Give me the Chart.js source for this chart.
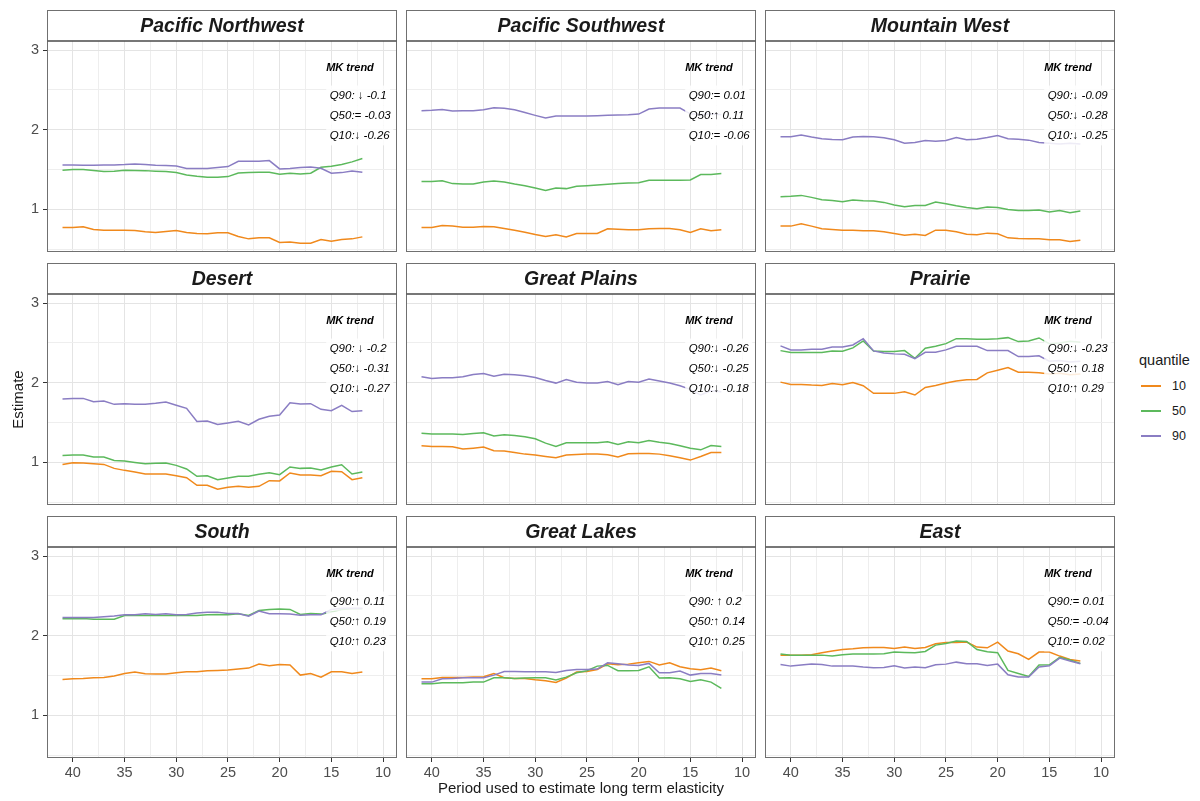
<!DOCTYPE html>
<html>
<head>
<meta charset="utf-8">
<script src="https://cdn.jsdelivr.net/npm/chart.js@4.4.1/dist/chart.umd.min.js"></script>
<style>
    html, body { margin: 0; padding: 0; background: #fff; }
    #page { position: relative; width: 1200px; height: 801px; overflow: hidden; font-family: "Liberation Sans", Arial, sans-serif; }
    #page canvas { position: absolute; }
    .legend-title { position: absolute; left: 1139px; top: 352px; font-size: 14.5px; color: #1a1a1a; }
    .legend-key { position: absolute; left: 1141px; width: 20px; height: 1.6px; }
    .legend-label { position: absolute; left: 1172px; font-size: 12.5px; color: #1a1a1a; line-height: 14px; }
</style>
</head>
<body>
<div id="page"></div>
<script>
// periods (x) and axis ticks
var periods = [41, 40, 39, 38, 37, 36, 35, 34, 33, 32, 31, 30, 29, 28, 27, 26, 25, 24, 23, 22, 21, 20, 19, 18, 17, 16, 15, 14, 13, 12];
var xTicks = [10, 12.5, 15, 17.5, 20, 22.5, 25, 27.5, 30, 32.5, 35, 37.5, 40];
var yTicks = [0.5, 1, 1.5, 2, 2.5, 3];

var quantiles = ['10', '50', '90'];
var quantileColors = ['#F0891C', '#5CB95C', '#8A7DC3'];

var regionNames = ['Pacific Northwest', 'Pacific Southwest', 'Mountain West', 'Desert', 'Great Plains', 'Prairie', 'South', 'Great Lakes', 'East'];

// estimates per region and quantile, x = periods
var pacificNorthwestQ10 = [0.773, 0.773, 0.782, 0.748, 0.739, 0.739, 0.739, 0.735, 0.718, 0.710, 0.723, 0.735, 0.710, 0.697, 0.693, 0.706, 0.706, 0.660, 0.630, 0.643, 0.643, 0.584, 0.592, 0.576, 0.576, 0.622, 0.601, 0.622, 0.630, 0.655];
var pacificNorthwestQ50 = [1.492, 1.500, 1.500, 1.490, 1.475, 1.480, 1.492, 1.490, 1.487, 1.480, 1.475, 1.462, 1.433, 1.416, 1.403, 1.403, 1.412, 1.458, 1.462, 1.466, 1.466, 1.441, 1.454, 1.445, 1.454, 1.529, 1.542, 1.563, 1.597, 1.639];
var pacificNorthwestQ90 = [1.559, 1.559, 1.555, 1.555, 1.559, 1.559, 1.563, 1.571, 1.563, 1.555, 1.550, 1.546, 1.513, 1.513, 1.513, 1.525, 1.538, 1.605, 1.605, 1.605, 1.613, 1.508, 1.513, 1.525, 1.534, 1.517, 1.454, 1.462, 1.483, 1.466];

var pacificSouthwestQ10 = [0.773, 0.773, 0.798, 0.790, 0.777, 0.777, 0.786, 0.782, 0.761, 0.739, 0.714, 0.685, 0.660, 0.681, 0.655, 0.697, 0.697, 0.697, 0.756, 0.752, 0.744, 0.744, 0.756, 0.761, 0.761, 0.744, 0.710, 0.756, 0.731, 0.744];
var pacificSouthwestQ50 = [1.349, 1.349, 1.361, 1.324, 1.319, 1.319, 1.345, 1.357, 1.345, 1.319, 1.298, 1.269, 1.239, 1.269, 1.261, 1.290, 1.298, 1.307, 1.315, 1.324, 1.332, 1.336, 1.366, 1.366, 1.366, 1.366, 1.370, 1.437, 1.437, 1.450];
var pacificSouthwestQ90 = [2.239, 2.244, 2.256, 2.235, 2.239, 2.239, 2.252, 2.277, 2.269, 2.252, 2.218, 2.181, 2.147, 2.172, 2.172, 2.172, 2.172, 2.176, 2.181, 2.185, 2.189, 2.197, 2.261, 2.273, 2.273, 2.273, 2.200, 2.190, 2.200, 2.190];

var mountainWestQ10 = [0.790, 0.790, 0.819, 0.790, 0.756, 0.748, 0.739, 0.739, 0.731, 0.731, 0.718, 0.697, 0.676, 0.689, 0.672, 0.739, 0.739, 0.718, 0.689, 0.681, 0.702, 0.693, 0.643, 0.634, 0.630, 0.630, 0.618, 0.618, 0.597, 0.613];
var mountainWestQ50 = [1.160, 1.164, 1.176, 1.151, 1.122, 1.113, 1.097, 1.118, 1.109, 1.105, 1.088, 1.055, 1.034, 1.050, 1.050, 1.092, 1.071, 1.046, 1.025, 1.008, 1.029, 1.025, 1.000, 0.987, 0.987, 0.992, 0.966, 0.987, 0.958, 0.979];
var mountainWestQ90 = [1.912, 1.912, 1.933, 1.908, 1.887, 1.878, 1.874, 1.908, 1.916, 1.912, 1.899, 1.874, 1.832, 1.840, 1.866, 1.857, 1.866, 1.903, 1.874, 1.882, 1.903, 1.929, 1.887, 1.882, 1.870, 1.840, 1.830, 1.820, 1.830, 1.820];

var desertQ10 = [0.975, 0.996, 0.992, 0.983, 0.975, 0.925, 0.900, 0.879, 0.854, 0.854, 0.854, 0.833, 0.808, 0.713, 0.713, 0.663, 0.688, 0.700, 0.688, 0.700, 0.771, 0.767, 0.867, 0.842, 0.842, 0.833, 0.888, 0.883, 0.783, 0.808];
var desertQ50 = [1.088, 1.092, 1.092, 1.067, 1.067, 1.025, 1.017, 1.000, 0.983, 0.988, 0.992, 0.963, 0.917, 0.825, 0.833, 0.783, 0.804, 0.825, 0.825, 0.850, 0.871, 0.846, 0.942, 0.925, 0.929, 0.904, 0.942, 0.971, 0.854, 0.879];
var desertQ90 = [1.796, 1.804, 1.804, 1.763, 1.771, 1.729, 1.738, 1.729, 1.729, 1.742, 1.758, 1.717, 1.679, 1.513, 1.521, 1.475, 1.496, 1.517, 1.471, 1.542, 1.579, 1.596, 1.750, 1.733, 1.738, 1.667, 1.650, 1.717, 1.638, 1.650];

var greatPlainsQ10 = [1.208, 1.200, 1.200, 1.196, 1.167, 1.179, 1.192, 1.146, 1.142, 1.125, 1.104, 1.092, 1.075, 1.058, 1.092, 1.100, 1.104, 1.104, 1.096, 1.067, 1.108, 1.113, 1.113, 1.104, 1.083, 1.058, 1.029, 1.075, 1.125, 1.125];
var greatPlainsQ50 = [1.367, 1.358, 1.358, 1.358, 1.350, 1.363, 1.371, 1.333, 1.346, 1.338, 1.321, 1.296, 1.242, 1.200, 1.246, 1.246, 1.246, 1.246, 1.258, 1.225, 1.258, 1.246, 1.275, 1.254, 1.238, 1.208, 1.179, 1.158, 1.213, 1.200];
var greatPlainsQ90 = [2.075, 2.054, 2.063, 2.063, 2.075, 2.104, 2.117, 2.083, 2.108, 2.100, 2.088, 2.067, 2.029, 1.996, 2.042, 2.008, 1.996, 1.996, 2.017, 1.975, 2.017, 2.008, 2.046, 2.021, 1.996, 1.963, 1.917, 1.846, 1.900, 1.888];

var prairieQ10 = [2.008, 1.979, 1.979, 1.971, 1.967, 1.992, 1.975, 2.004, 1.963, 1.867, 1.867, 1.867, 1.888, 1.846, 1.942, 1.967, 1.996, 2.021, 2.038, 2.042, 2.125, 2.158, 2.192, 2.133, 2.133, 2.125, 2.110, 2.120, 2.100, 2.110];
var prairieQ50 = [2.404, 2.379, 2.379, 2.379, 2.379, 2.400, 2.396, 2.438, 2.525, 2.400, 2.392, 2.392, 2.404, 2.308, 2.433, 2.458, 2.492, 2.554, 2.554, 2.546, 2.546, 2.554, 2.567, 2.517, 2.525, 2.563, 2.490, 2.500, 2.520, 2.510];
var prairieQ90 = [2.463, 2.413, 2.413, 2.421, 2.421, 2.450, 2.450, 2.475, 2.554, 2.400, 2.375, 2.363, 2.358, 2.304, 2.383, 2.383, 2.413, 2.458, 2.458, 2.458, 2.404, 2.404, 2.404, 2.329, 2.329, 2.338, 2.270, 2.280, 2.260, 2.270];

var southQ10 = [1.452, 1.460, 1.464, 1.473, 1.477, 1.494, 1.527, 1.544, 1.523, 1.519, 1.519, 1.536, 1.548, 1.548, 1.561, 1.565, 1.569, 1.582, 1.594, 1.644, 1.623, 1.640, 1.632, 1.506, 1.527, 1.481, 1.548, 1.548, 1.527, 1.544];
var southQ50 = [2.213, 2.213, 2.218, 2.209, 2.209, 2.209, 2.255, 2.259, 2.255, 2.255, 2.255, 2.255, 2.255, 2.255, 2.264, 2.268, 2.264, 2.276, 2.255, 2.318, 2.331, 2.335, 2.331, 2.268, 2.280, 2.272, 2.300, 2.330, 2.340, 2.340];
var southQ90 = [2.230, 2.230, 2.230, 2.230, 2.238, 2.247, 2.264, 2.264, 2.276, 2.268, 2.276, 2.264, 2.268, 2.285, 2.297, 2.297, 2.280, 2.280, 2.247, 2.310, 2.276, 2.276, 2.272, 2.259, 2.264, 2.264, 2.331, 2.347, 2.347, 2.347];

var greatLakesQ10 = [1.460, 1.460, 1.477, 1.477, 1.477, 1.481, 1.485, 1.527, 1.473, 1.464, 1.464, 1.448, 1.435, 1.414, 1.469, 1.544, 1.552, 1.577, 1.649, 1.636, 1.644, 1.661, 1.678, 1.632, 1.661, 1.611, 1.586, 1.573, 1.594, 1.561];
var greatLakesQ50 = [1.397, 1.397, 1.410, 1.410, 1.410, 1.418, 1.418, 1.473, 1.473, 1.464, 1.469, 1.473, 1.473, 1.444, 1.481, 1.536, 1.561, 1.619, 1.628, 1.561, 1.561, 1.565, 1.611, 1.469, 1.473, 1.460, 1.427, 1.448, 1.418, 1.339];
var greatLakesQ90 = [1.418, 1.418, 1.460, 1.464, 1.473, 1.473, 1.473, 1.506, 1.552, 1.552, 1.548, 1.548, 1.548, 1.540, 1.565, 1.577, 1.577, 1.582, 1.661, 1.649, 1.632, 1.628, 1.653, 1.536, 1.536, 1.556, 1.506, 1.527, 1.527, 1.506];

var eastQ10 = [1.757, 1.757, 1.757, 1.762, 1.787, 1.808, 1.828, 1.837, 1.849, 1.854, 1.854, 1.841, 1.858, 1.841, 1.854, 1.900, 1.916, 1.916, 1.921, 1.858, 1.849, 1.921, 1.808, 1.774, 1.703, 1.795, 1.795, 1.745, 1.703, 1.682];
var eastQ50 = [1.770, 1.757, 1.757, 1.757, 1.757, 1.745, 1.762, 1.770, 1.770, 1.770, 1.774, 1.795, 1.791, 1.787, 1.803, 1.883, 1.904, 1.933, 1.929, 1.828, 1.799, 1.787, 1.565, 1.527, 1.490, 1.632, 1.636, 1.728, 1.695, 1.653];
var eastQ90 = [1.640, 1.619, 1.632, 1.644, 1.640, 1.619, 1.619, 1.619, 1.607, 1.598, 1.603, 1.623, 1.594, 1.607, 1.598, 1.636, 1.644, 1.669, 1.649, 1.649, 1.628, 1.644, 1.510, 1.481, 1.481, 1.607, 1.623, 1.720, 1.682, 1.649];

// Mann-Kendall trend labels
var trendQ90 = ['Q90: \u2193 -0.1', 'Q90:= 0.01', 'Q90:\u2193 -0.09', 'Q90: \u2193 -0.2', 'Q90:\u2193 -0.26', 'Q90:\u2193 -0.23', 'Q90:\u2191 0.11', 'Q90: \u2191 0.2', 'Q90:= 0.01'];
var trendQ50 = ['Q50:= -0.03', 'Q50:\u2191 0.11', 'Q50:\u2193 -0.28', 'Q50:\u2193 -0.31', 'Q50:\u2193 -0.25', 'Q50:\u2191 0.18', 'Q50:\u2191 0.19', 'Q50:\u2191 0.14', 'Q50:= -0.04'];
var trendQ10 = ['Q10:\u2193 -0.26', 'Q10:= -0.06', 'Q10:\u2193 -0.25', 'Q10:\u2193 -0.27', 'Q10:\u2193 -0.18', 'Q10:\u2191 0.29', 'Q10:\u2191 0.23', 'Q10:\u2191 0.25', 'Q10:= 0.02'];

var regionSeries = [
    [pacificNorthwestQ10, pacificNorthwestQ50, pacificNorthwestQ90],
    [pacificSouthwestQ10, pacificSouthwestQ50, pacificSouthwestQ90],
    [mountainWestQ10, mountainWestQ50, mountainWestQ90],
    [desertQ10, desertQ50, desertQ90],
    [greatPlainsQ10, greatPlainsQ50, greatPlainsQ90],
    [prairieQ10, prairieQ50, prairieQ90],
    [southQ10, southQ50, southQ90],
    [greatLakesQ10, greatLakesQ50, greatLakesQ90],
    [eastQ10, eastQ50, eastQ90]
];

// layout of the facet grid (page pixels)
var colLeft = [47, 406, 765];
var rowTop = [41, 294, 547];
var plotW = 350, plotH = 211, stripH = 31, axisW = 47;
var FONT = '"Liberation Sans", Arial, sans-serif';

// label anchor in data units
var labelX = 15.5;
var labelY = [2.43, 2.18, 1.93];
var headerY = 2.78;

var panelFrame = {
    id: 'panelFrame',
    afterDatasetsDraw: function (chart, args, opts) {
        var ctx = chart.ctx;
        var xs = chart.scales.x, ys = chart.scales.y;
        var x0 = xs.getPixelForValue(labelX);
        ctx.save();
        ctx.textAlign = 'left';
        ctx.textBaseline = 'middle';
        ctx.fillStyle = '#000';
        ctx.font = 'italic bold 11px ' + FONT;
        ctx.fillText('MK trend', x0, ys.getPixelForValue(headerY));
        ctx.font = 'italic 11.5px ' + FONT;
        for (var i = 0; i < opts.lines.length; i++) {
            var yc = ys.getPixelForValue(labelY[i]);
            var w = ctx.measureText(opts.lines[i]).width;
            ctx.fillStyle = 'rgba(255,255,255,0.85)';
            ctx.fillRect(x0, yc - 10, w + 7, 20);
            ctx.fillStyle = '#000';
            ctx.fillText(opts.lines[i], x0 + 3.5, yc);
        }
        ctx.restore();
    },
    afterDraw: function (chart) {
        var ctx = chart.ctx;
        var a = chart.chartArea;
        var l = Math.round(a.left) + 0.5, r = Math.round(a.right) - 0.5;
        var t = Math.round(a.top) + 0.5, b = Math.round(a.bottom) - 0.5;
        ctx.save();
        ctx.lineWidth = 1;
        ctx.strokeStyle = '#707070';
        ctx.strokeRect(l, 0.5, r - l, b - 0.5);
        ctx.strokeStyle = '#4a4a4a';
        ctx.lineWidth = 1.5;
        ctx.beginPath();
        ctx.moveTo(l, t - 0.5);
        ctx.lineTo(r, t - 0.5);
        ctx.stroke();
        ctx.restore();
    }
};

function buildPoints(values) {
    return periods.map(function (p, i) { return { x: p, y: values[i] }; });
}

// keep the plot area fixed: no extra padding for edge tick labels
function noLabelPadding(s) {
    s.paddingTop = 0;
    s.paddingBottom = 0;
    s.paddingLeft = 0;
    s.paddingRight = 0;
}

function createPanel(index) {
    var row = Math.floor(index / 3), col = index % 3;
    var isLeft = col === 0, isBottom = row === 2;
    var bottomH = isBottom ? 43 : 0;

    var canvas = document.createElement('canvas');
    canvas.width = axisW + plotW + 3;
    canvas.height = stripH + plotH + bottomH + (isBottom ? 0 : 1);
    canvas.style.left = (colLeft[col] - axisW) + 'px';
    canvas.style.top = (rowTop[row] - stripH) + 'px';
    canvas.style.width = canvas.width + 'px';
    canvas.style.height = canvas.height + 'px';
    document.getElementById('page').appendChild(canvas);

    // 90 drawn on top, like ggplot group order
    var datasets = [];
    for (var q = 2; q >= 0; q--) {
        datasets.push({
            label: quantiles[q],
            data: buildPoints(regionSeries[index][q]),
            borderColor: quantileColors[q],
            backgroundColor: quantileColors[q],
            borderWidth: 1.5,
            pointRadius: 0,
            tension: 0,
            fill: false
        });
    }

    new Chart(canvas, {
        type: 'line',
        data: { datasets: datasets },
        options: {
            responsive: false,
            animation: false,
            devicePixelRatio: 1,
            layout: { padding: { left: 0, top: 0, right: 3, bottom: isBottom ? 0 : 1 } },
            plugins: {
                legend: { display: false },
                tooltip: { enabled: false },
                title: {
                    display: true,
                    text: regionNames[index],
                    fullSize: false,
                    color: '#1a1a1a',
                    font: { family: FONT, size: 19.5, style: 'italic', weight: 'bold', lineHeight: 1.2 },
                    padding: { top: 4.5, bottom: 3.1 }
                },
                panelFrame: { lines: [trendQ90[index], trendQ50[index], trendQ10[index]] }
            },
            scales: {
                x: {
                    type: 'linear',
                    reverse: true,
                    min: 8.65,
                    max: 42.5,
                    afterBuildTicks: function (s) { s.ticks = xTicks.map(function (v) { return { value: v }; }); },
                    afterFit: function (s) { s.height = bottomH; noLabelPadding(s); },
                    border: { display: false },
                    grid: {
                        color: function (c) { return c.tick && c.tick.value % 5 === 0 ? '#e4e4e4' : '#eeeeee'; },
                        lineWidth: 1,
                        drawTicks: isBottom,
                        tickLength: 4,
                        tickColor: function (c) { return c.tick && c.tick.value % 5 === 0 ? '#333' : 'rgba(0,0,0,0)'; }
                    },
                    ticks: {
                        display: isBottom,
                        autoSkip: false,
                        maxRotation: 0,
                        padding: 2,
                        color: '#4d4d4d',
                        font: { family: FONT, size: 14.5 },
                        callback: function (v) { return v % 5 === 0 ? String(v) : ''; }
                    },
                    title: {
                        display: isBottom && col === 1,
                        text: 'Period used to estimate long term elasticity',
                        color: '#1a1a1a',
                        font: { family: FONT, size: 15 },
                        padding: { top: 0, bottom: 3 }
                    }
                },
                y: {
                    type: 'linear',
                    min: 0.465,
                    max: 3.115,
                    afterBuildTicks: function (s) { s.ticks = yTicks.map(function (v) { return { value: v }; }); },
                    afterFit: function (s) { s.width = axisW; noLabelPadding(s); },
                    border: { display: false },
                    grid: {
                        color: function (c) { return c.tick && Number.isInteger(c.tick.value) ? '#e4e4e4' : '#eeeeee'; },
                        lineWidth: 1,
                        drawTicks: isLeft,
                        tickLength: 4,
                        tickColor: function (c) { return c.tick && Number.isInteger(c.tick.value) ? '#333' : 'rgba(0,0,0,0)'; }
                    },
                    ticks: {
                        display: isLeft,
                        autoSkip: false,
                        padding: 4,
                        color: '#4d4d4d',
                        font: { family: FONT, size: 14.5 },
                        callback: function (v) { return Number.isInteger(v) ? String(v) : ''; }
                    },
                    title: {
                        display: isLeft && row === 1,
                        text: 'Estimate',
                        color: '#1a1a1a',
                        font: { family: FONT, size: 15 },
                        padding: { top: 10, bottom: 0 }
                    }
                }
            }
        },
        plugins: [panelFrame]
    });
}

for (var i = 0; i < regionNames.length; i++) {
    createPanel(i);
}

// legend on the right
var page = document.getElementById('page');
var legendTitle = document.createElement('div');
legendTitle.className = 'legend-title';
legendTitle.textContent = 'quantile';
page.appendChild(legendTitle);
var legendY = [386, 411, 436];
for (var k = 0; k < quantiles.length; k++) {
    var key = document.createElement('div');
    key.className = 'legend-key';
    key.style.top = (legendY[k] - 1) + 'px';
    key.style.background = quantileColors[k];
    page.appendChild(key);
    var lab = document.createElement('div');
    lab.className = 'legend-label';
    lab.style.top = (legendY[k] - 7) + 'px';
    lab.textContent = quantiles[k];
    page.appendChild(lab);
}
</script>
</body>
</html>
